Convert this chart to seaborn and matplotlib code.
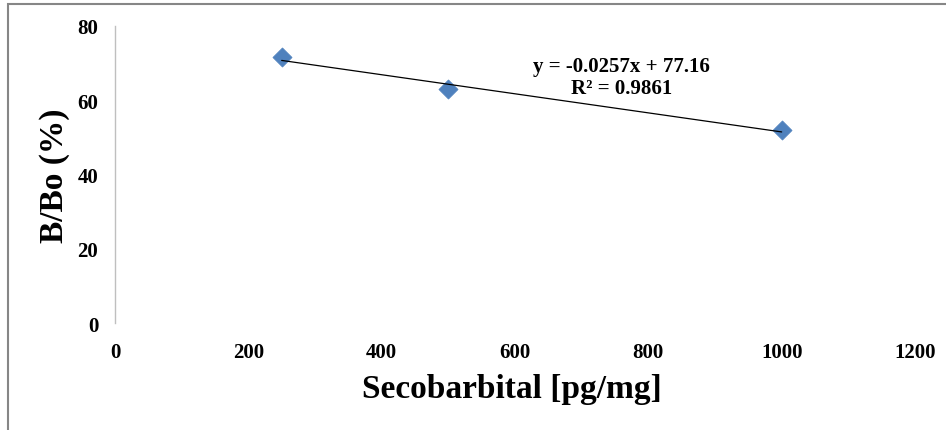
import numpy as np
import pandas as pd
import matplotlib
matplotlib.use("Agg")
import matplotlib.pyplot as plt
import seaborn as sns
from matplotlib.patches import Rectangle

# ------------------------------------------------------------------
# Data
# ------------------------------------------------------------------
concentration = [250, 500, 1000]          # Secobarbital [pg/mg]
b_bo = [71.6, 63.0, 51.9]                 # B/Bo (%)
x_ticks = [0, 200, 400, 600, 800, 1000, 1200]
y_ticks = [0, 20, 40, 60, 80]
eq_text = "y = -0.0257x + 77.16\nR\u00b2 = 0.9861"

df = pd.DataFrame({"conc": concentration, "bbo": b_bo})

sns.set_theme(style="white")
plt.rcParams["font.family"] = ["Liberation Serif", "DejaVu Serif"]
plt.rcParams["font.weight"] = "bold"
plt.rcParams["text.color"] = "black"
plt.rcParams["axes.labelcolor"] = "black"
plt.rcParams["xtick.color"] = "black"
plt.rcParams["ytick.color"] = "black"

fig = plt.figure(figsize=(9.46, 4.31), dpi=100)
ax = fig.add_axes([115 / 946, 1 - 324 / 431, 800 / 946, 297 / 431])

# points
sns.scatterplot(data=df, x="conc", y="bbo", marker="D", s=95,
                color="#4F81BD", edgecolor="#4F81BD", linewidth=0.5,
                ax=ax, zorder=3)

# linear trendline (Excel style, over the data range)
sns.regplot(data=df, x="conc", y="bbo", scatter=False, ci=None, truncate=True,
            line_kws={"color": "black", "lw": 0.9, "zorder": 4}, ax=ax)

ax.set_xlim(0, 1200)
ax.set_ylim(0, 80)
ax.set_xticks(x_ticks)
ax.set_yticks(y_ticks)
ax.set_xticklabels([str(t) for t in x_ticks], fontsize=15, fontweight="bold")
ax.set_yticklabels([str(t) for t in y_ticks], fontsize=15, fontweight="bold")
ax.tick_params(axis="both", length=0)
ax.tick_params(axis="x", pad=14)
ax.tick_params(axis="y", pad=12)

for side in ["top", "right", "bottom"]:
    ax.spines[side].set_visible(False)
ax.spines["left"].set_color("#BFBFBF")
ax.spines["left"].set_linewidth(1.0)
ax.grid(False)

ax.set_xlabel("Secobarbital [pg/mg]", fontsize=24, fontweight="bold", va="center")
ax.set_ylabel("B/Bo (%)", fontsize=24, fontweight="bold", va="center")
ax.xaxis.set_label_coords(0.496, -0.222)
ax.yaxis.set_label_coords(-0.076, 0.5)

ax.text(760, 66.3, eq_text, ha="center", va="center", fontsize=15,
        fontweight="bold", linespacing=1.15)

# chart area border
fig.patches.append(Rectangle((8 / 946, -0.2), 1.2, 1.2 - 5 / 431,
                             transform=fig.transFigure, fill=False,
                             edgecolor="#868686", linewidth=1.5))

fig.savefig("out.png", dpi=100)
